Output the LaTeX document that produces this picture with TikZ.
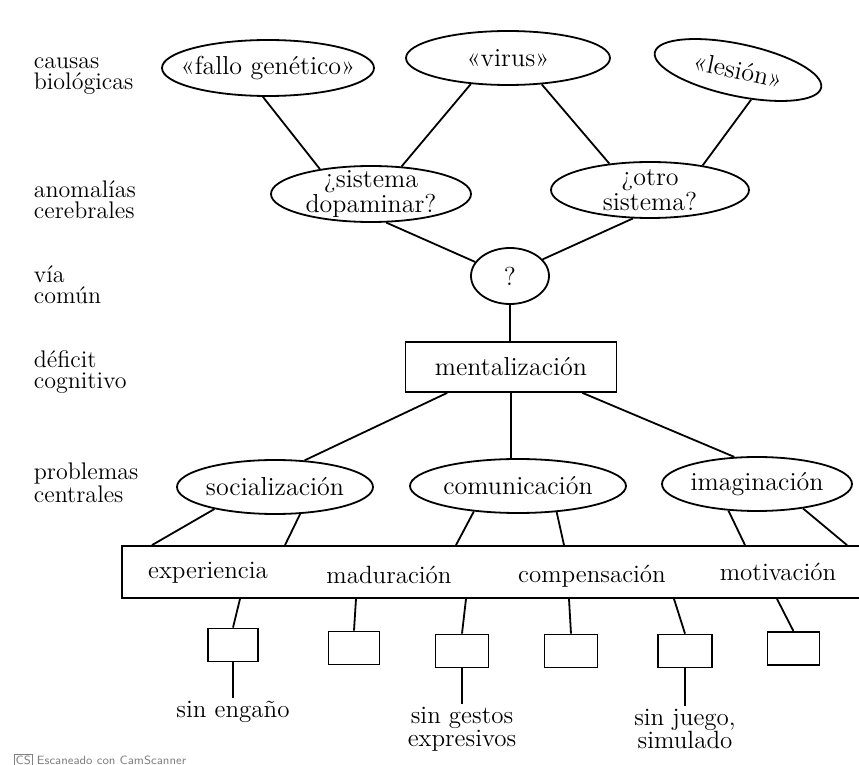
\documentclass[tikz,border=0pt]{standalone}
\usetikzlibrary{shapes.geometric,calc}
\tikzset{
  ovalo/.style={draw, ellipse, inner xsep=-10pt, inner ysep=-3pt, align=center,
    font=\fontsize{13}{10.5}\selectfont},
  caja/.style={draw, rectangle, inner sep=0pt, font=\fontsize{13}{11.5}\selectfont},
  nivel/.style={anchor=west, align=left, inner sep=0pt},
  pie/.style={align=center, inner sep=1pt, font=\fontsize{12.5}{11.5}\selectfont}
}
\begin{document}
\begin{tikzpicture}[x=0.5pt, y=-0.5pt, line width=0.9pt,
    font=\fontsize{12}{10.5}\selectfont]
    \useasboundingbox (0,0) rectangle (859,765);
    \node[nivel] (causas) at (33,76) {causas\\biológicas};
    \node[nivel] (anomal) at (33,200) {anomalías\\cerebrales};
    \node[nivel] (via) at (33,285) {vía\\común};
    \node[nivel] (deficit) at (33,372) {déficit\\cognitivo};
    \node[nivel] (probl) at (33,483) {problemas\\centrales};

    \node[ovalo, minimum width=106pt, minimum height=28pt] (fallo) at (268,68) {«fallo genético»};
    \node[ovalo, minimum width=102pt, minimum height=27pt] (virus) at (508,58) {«virus»};
    \node[ovalo, minimum width=85pt, minimum height=26pt, rotate=-12] (lesion) at (738,70) {«lesión»};
    \node[ovalo, minimum width=100pt, minimum height=28pt] (dopa) at (371,194) {¿sistema\\dopaminar?};
    \node[ovalo, minimum width=99pt, minimum height=28pt] (otro) at (650,190) {¿otro\\sistema?};
    \node[ovalo, minimum width=39pt, minimum height=28pt] (q) at (510,276) {?};
    \node[caja, minimum width=105.5pt, minimum height=25pt] (ment) at (511,367) {mentalización};
    \node[ovalo, minimum width=98pt, minimum height=27pt] (soc) at (275,487) {socialización};
    \node[ovalo, minimum width=108pt, minimum height=27pt] (com) at (518,486) {comunicación};
    \node[ovalo, minimum width=95pt, minimum height=27pt] (ima) at (757,484) {imaginación};

    \node[caja, minimum width=380pt, minimum height=26pt] (banda) at (502,572) {};
    \node[pie] (exp) at (208,573) {experiencia};
    \node[pie] (mad) at (389,575) {maduración};
    \node[pie] (comp) at (592,576) {compensación};
    \node[pie] (mot) at (778,572) {motivación};

    \node[caja, minimum width=25pt, minimum height=16.5pt] (sq1) at (233,645) {};
    \node[caja, minimum width=25.5pt, minimum height=16.5pt] (sq2) at (354,648) {};
    \node[caja, minimum width=26.5pt, minimum height=16.5pt] (sq3) at (462,651) {};
    \node[caja, minimum width=26.5pt, minimum height=16.5pt] (sq4) at (571,651) {};
    \node[caja, minimum width=27pt, minimum height=16.5pt] (sq5) at (685,651) {};
    \node[caja, minimum width=26pt, minimum height=16.5pt] (sq6) at (793.4,648.4) {};

    \node[pie] (eng) at (233,712) {sin engaño};
    \node[pie] (ges) at (462,729) {sin gestos\\expresivos};
    \node[pie] (jue) at (685,729) {sin juego,\\simulado};

    \draw (fallo.-100) -- (dopa.154);
    \draw (virus.-145) -- (dopa.42);
    \draw (virus.-38) -- (otro.147);
    \draw (lesion.-54) -- (otro.25);
    \draw (dopa.-62) -- (q.158);
    \draw (otro.-121) -- (q.27);
    \draw (q.south) -- (q.south |- ment.north);
    \draw ($(ment.south west)!0.2!(ment.south east)$) -- (soc.42);
    \draw (ment.south) -- (ment.south |- com.north);
    \draw ($(ment.south west)!0.836!(ment.south east)$) -- (ima.130);

    \draw (soc.-160) -- (152,559 |- banda.north);
    \draw (soc.-47) -- (285,559 |- banda.north);
    \draw (com.-150) -- (456,559 |- banda.north);
    \draw (com.-34) -- (564,559 |- banda.north);
    \draw (ima.-137) -- (745,559 |- banda.north);
    \draw (ima.-28) -- (847,559 |- banda.north);

    \draw (240,585 |- banda.south) -- (sq1.north);
    \draw (356,585 |- banda.south) -- (sq2.north);
    \draw (466,585 |- banda.south) -- (sq3.north);
    \draw (569,585 |- banda.south) -- (sq4.north);
    \draw (674,585 |- banda.south) -- (sq5.north);
    \draw (777,585 |- banda.south) -- (sq6.north);

    \draw (sq1.south) -- (eng.north);
    \draw (sq3.south) -- (ges.north);
    \draw (sq5.south) -- (jue.north);

    \node[anchor=west, inner sep=0pt, text=gray, font=\fontsize{6}{7}\sffamily] (cs) at (13,760)
        {{\setlength{\fboxsep}{0.5pt}\fbox{CS}} Escaneado con CamScanner};
\end{tikzpicture}
\end{document}
